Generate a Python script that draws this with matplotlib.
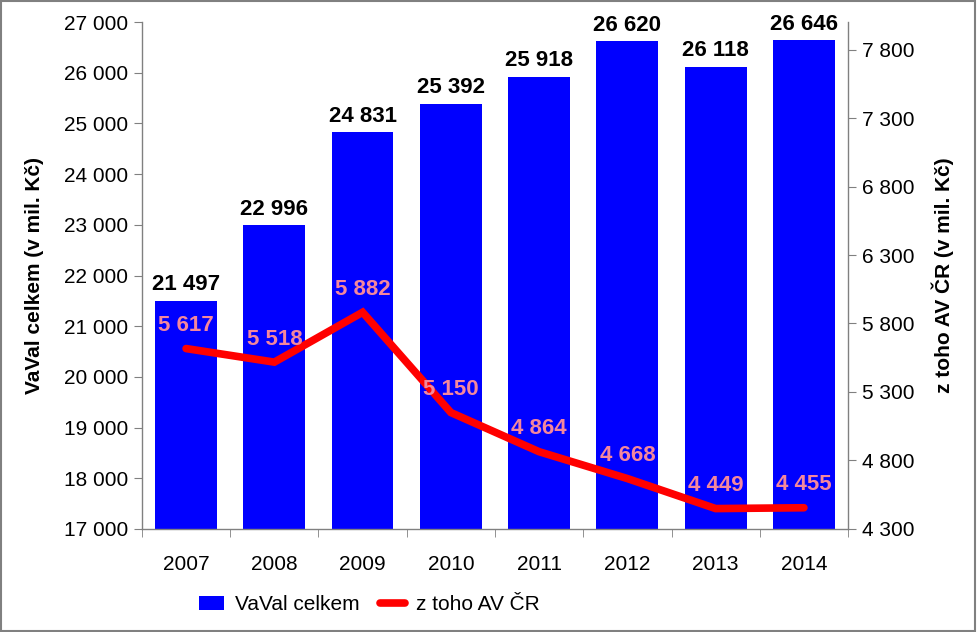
import matplotlib
matplotlib.use("Agg")
import matplotlib.pyplot as plt
from matplotlib.ticker import FuncFormatter, MultipleLocator

plt.rcParams["font.family"] = ["Liberation Sans Narrow", "Liberation Sans", "DejaVu Sans"]

# data
years = ["2007", "2008", "2009", "2010", "2011", "2012", "2013", "2014"]
vaval_total = [21497, 22996, 24831, 25392, 25918, 26620, 26118, 26646]
av_cr = [5617, 5518, 5882, 5150, 4864, 4668, 4449, 4455]


def fmt(v):
    return f"{int(v):,}".replace(",", " ")


fig = plt.figure(figsize=(9.77, 6.32), dpi=100)
ax = fig.add_axes([0.1453, 0.163, 0.7227, 0.802])
ax2 = ax.twinx()

x = list(range(len(years)))
ax.bar(x, vaval_total, width=0.70, color="#0000FF", zorder=2, label="VaVal celkem")
for xi, v in zip(x, vaval_total):
    ax.annotate(fmt(v), (xi, v), xytext=(0, 4), textcoords="offset points",
                ha="center", va="bottom", fontsize=16, fontweight="bold", color="black")

ax2.plot(x, av_cr, color="#FF0000", lw=5.5, solid_joinstyle="miter",
         solid_capstyle="round", zorder=3, label="z toho AV ČR")
for xi, v in zip(x, av_cr):
    ax2.annotate(fmt(v), (xi, v), xytext=(0, 9), textcoords="offset points",
                 ha="center", va="bottom", fontsize=16, fontweight="bold", color="#F4879C")

ax.set_xlim(-0.5, len(years) - 0.5)
ax.set_ylim(17000, 27000)
ax.yaxis.set_major_locator(MultipleLocator(1000))
ax.yaxis.set_major_formatter(FuncFormatter(lambda v, p: fmt(v)))
ax2.set_ylim(4300, 8000)
ax2.set_yticks([4300, 4800, 5300, 5800, 6300, 6800, 7300, 7800])
ax2.yaxis.set_major_formatter(FuncFormatter(lambda v, p: fmt(v)))

ax.set_xticks(x)
ax.set_xticklabels(years)
ax.set_xticks([i - 0.5 for i in range(len(years) + 1)], minor=True)
ax.tick_params(axis="x", which="major", length=0, pad=19, labelsize=15)
ax.tick_params(axis="x", which="minor", length=6, color="#808080", direction="out")
ax.tick_params(axis="y", length=6, color="#808080", labelsize=15, pad=4)
ax2.tick_params(axis="y", length=6, color="#808080", labelsize=15, pad=4)

for a in (ax, ax2):
    for s in a.spines.values():
        s.set_visible(False)
ax.spines["left"].set_visible(True)
ax.spines["bottom"].set_visible(True)
ax2.spines["right"].set_visible(True)
for s in (ax.spines["left"], ax.spines["bottom"], ax2.spines["right"]):
    s.set_color("#808080")
    s.set_linewidth(1)

ax.set_ylabel("VaVal celkem (v mil. Kč)", fontsize=15, fontweight="bold", labelpad=14)
ax2.set_ylabel("z toho AV ČR (v mil. Kč)", fontsize=15, fontweight="bold", labelpad=12)

h1, l1 = ax.get_legend_handles_labels()
h2, l2 = ax2.get_legend_handles_labels()
fig.legend(h1 + h2, l1 + l2, loc="center", bbox_to_anchor=(0.378, 0.043), ncol=2,
           frameon=False, fontsize=15, handlelength=1.2, handletextpad=0.5,
           columnspacing=1.0)

# grey frame around the whole chart
fig.patches.append(plt.Rectangle((0.001, 0.002), 0.997, 0.996, transform=fig.transFigure,
                                 fill=False, edgecolor="#808080", lw=1.5))

fig.savefig("out.png", dpi=100)
